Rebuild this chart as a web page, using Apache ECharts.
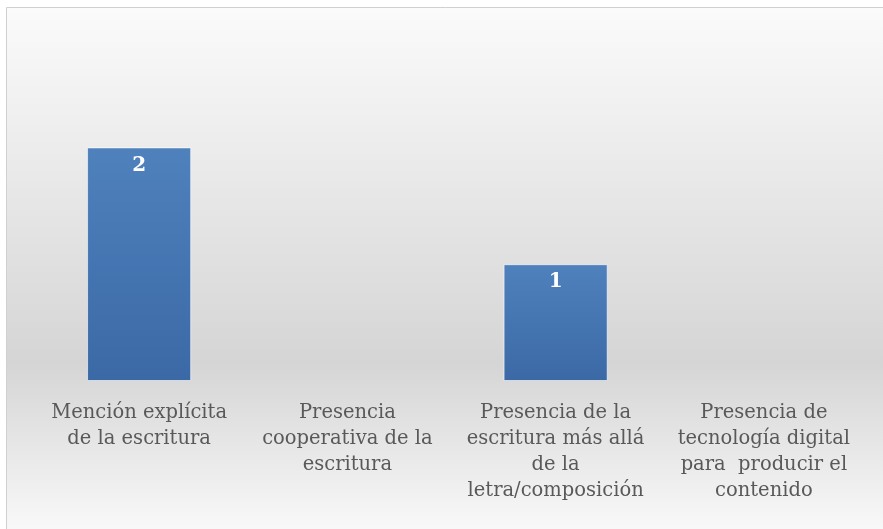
<!DOCTYPE html>
<html>
<head>
<meta charset="utf-8">
<script src="https://cdn.jsdelivr.net/npm/echarts@6/dist/echarts.min.js"></script>
<style>html,body{margin:0;padding:0;background:#fff}#c{width:883px;height:529px}</style>
</head>
<body>
<div id="c"></div>
<script>
var categories = [
  "Mención explícita\nde la escritura",
  "Presencia\ncooperativa de la\nescritura",
  "Presencia de la\nescritura más allá\nde la\nletra/composición",
  "Presencia de\ntecnología digital\npara  producir el\ncontenido"
];
var values = [2, null, 1, null];

var chart = echarts.init(document.getElementById('c'));
chart.setOption({
  animation: false,
  graphic: [{
    type: 'rect',
    z: -10,
    shape: {x: 6.5, y: 7.5, width: 880, height: 530},
    style: {
      fill: new echarts.graphic.LinearGradient(0, 0, 0, 1, [
        {offset: 0, color: '#fbfbfb'},
        {offset: 0.67, color: '#d5d5d5'},
        {offset: 1, color: '#fafafa'}
      ]),
      stroke: '#d0d0d0',
      lineWidth: 1
    }
  }],
  grid: {left: 35, right: 15, top: 89, bottom: 148, containLabel: false},
  xAxis: {
    type: 'category',
    data: categories,
    axisLine: {show: false},
    axisTick: {show: false},
    axisLabel: {
      interval: 0,
      margin: 19,
      color: '#595959',
      fontFamily: 'DejaVu Serif',
      fontSize: 19.5,
      lineHeight: 26
    }
  },
  yAxis: {
    type: 'value',
    min: 0,
    max: 2.5,
    show: false,
    splitLine: {show: false}
  },
  series: [{
    type: 'bar',
    data: values,
    barWidth: '50%',
    itemStyle: {
      color: new echarts.graphic.LinearGradient(0, 0, 0, 1, [
        {offset: 0, color: '#4f81bd'},
        {offset: 1, color: '#3b69a6'}
      ]),
      borderColor: 'rgba(255,255,255,0.6)',
      borderWidth: 1
    },
    label: {
      show: true,
      position: 'insideTop',
      distance: 8,
      color: '#ffffff',
      fontWeight: 'bold',
      fontFamily: 'DejaVu Serif',
      fontSize: 20
    }
  }]
});
</script>
</body>
</html>
